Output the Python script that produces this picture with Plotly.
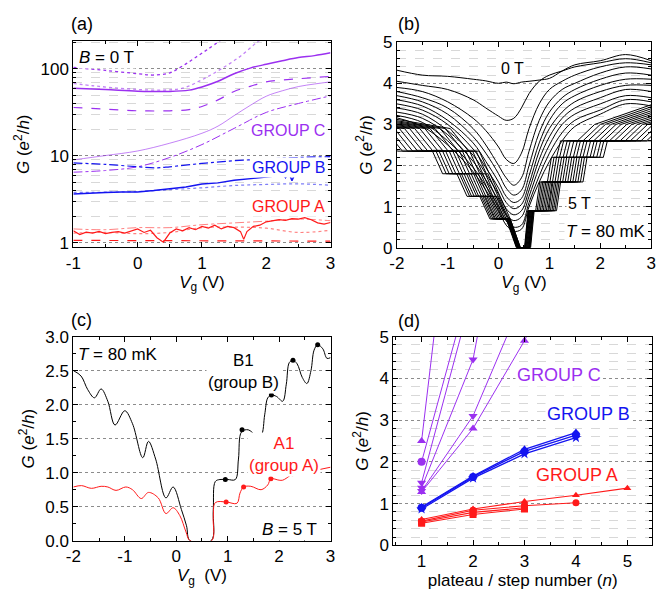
import math
import plotly.graph_objects as go

FONT = "Liberation Sans, Arial, Helvetica, sans-serif"
PURPLE = "#9b30f0"
PURPLE_L = "rgba(155,48,240,0.6)"
BLUE = "#1414f0"
BLUE_L = "rgba(20,20,240,0.55)"
RED = "#ff1a1a"
RED_L = "rgba(255,26,26,0.55)"

# ---------------- panel (a): G vs Vg at B = 0 T (log scale) ----------------
a_c_dot1_vg = [-1.0, -0.5, 0.0, 0.25, 0.5, 0.7, 0.9, 1.1, 1.3]
a_c_dot1_g = [104, 96, 88, 85, 90, 108, 135, 170, 215]
a_c_dot2_vg = [-1.0, -0.7, -0.4, 0.0, 0.4, 0.7, 1.0, 1.3, 1.6, 1.85, 2.0]
a_c_dot2_g = [68, 64, 61, 58, 57, 60, 75, 100, 140, 200, 235]
a_c_solid_vg = [-1.0, -0.5, 0.0, 0.5, 0.8, 1.0, 1.25, 1.5, 1.75, 2.0, 2.25, 2.5, 2.75, 3.0]
a_c_solid_g = [60, 58, 55.5, 55, 57, 62, 72, 88, 102, 113, 124, 135, 142, 153]
a_c_dash_vg = [-1.0, -0.5, 0.0, 0.5, 0.8, 1.0, 1.25, 1.5, 1.75, 2.0, 2.5, 3.0]
a_c_dash_g = [36, 34.5, 33, 33, 34, 37, 44, 55, 63, 71, 77, 82]
a_c_thin_vg = [-1.0, -0.5, 0.0, 0.5, 1.0, 1.25, 1.5, 1.75, 2.0, 2.25, 2.5, 2.75, 3.0]
a_c_thin_g = [9.0, 10.1, 11.4, 14.0, 18.2, 22, 29, 38, 48.5, 56, 62.6, 67, 71]
a_c_dd_vg = [-1.0, -0.5, 0.0, 0.5, 1.0, 1.5, 2.0, 2.5, 3.0]
a_c_dd_g = [6.5, 6.8, 7.5, 9.6, 13.5, 20.7, 31.6, 40, 49]
a_b_dd_vg = [-1.0, -0.5, 0.0, 0.3, 0.5, 1.0, 1.5, 2.0, 2.5, 3.0]
a_b_dd_g = [8.3, 8.0, 7.5, 7.3, 7.5, 8.2, 8.8, 9.2, 9.6, 9.8]
a_b_solid_vg = [-1.0, -0.75, -0.5, -0.25, 0.0, 0.25, 0.5, 0.75, 1.0, 1.25, 1.5, 1.75, 2.0,
                2.2, 2.25, 2.3, 2.35, 2.4, 2.45, 2.5]
a_b_solid_g = [3.65, 3.75, 3.8, 3.85, 3.85, 4.0, 4.2, 4.4, 4.75, 4.9, 5.25, 5.45, 5.7,
               5.95, 6.3, 5.6, 6.4, 5.2, 6.3, 5.9]
a_b_dot_vg = [-1.0, 0.0, 0.5, 1.0, 1.5, 2.0, 2.5, 3.0]
a_b_dot_g = [3.8, 3.9, 4.1, 4.3, 4.57, 4.7, 4.78, 4.6]
a_a_solid_vg = [-1.0, -0.9, -0.8, -0.7, -0.6, -0.5, -0.4, -0.3, -0.2, -0.1, 0.0, 0.1, 0.2,
                0.3, 0.4, 0.5, 0.6, 0.7, 0.8, 0.9, 1.0, 1.1, 1.2, 1.3, 1.4, 1.5, 1.6, 1.65,
                1.7, 1.8, 1.9, 2.0, 2.1, 2.2, 2.3, 2.4, 2.5, 2.6, 2.7, 2.8, 2.9, 3.0]
a_a_solid_g = [1.38, 1.25, 1.33, 1.30, 1.36, 1.28, 1.32, 1.35, 1.30, 1.38, 1.45, 1.32, 1.40,
               1.15, 1.02, 1.30, 1.45, 1.38, 1.50, 1.42, 1.55, 1.48, 1.60, 1.45, 1.55, 1.50,
               1.35, 1.10, 1.35, 1.55, 1.60, 1.75, 1.80, 1.85, 1.82, 1.90, 1.88, 1.95, 1.85,
               1.70, 1.65, 1.72]
a_a_dd_vg = [-1.0, -0.5, 0.0, 0.5, 1.0, 1.5, 2.0, 2.5, 3.0]
a_a_dd_g = [1.45, 1.42, 1.50, 1.50, 1.62, 1.70, 1.78, 1.88, 1.80]
a_a_dot_vg = [-1.0, -0.5, 0.0, 0.5, 1.0, 1.5, 2.0, 2.5, 3.0]
a_a_dot_g = [1.30, 1.32, 1.28, 1.32, 1.50, 1.52, 1.48, 1.32, 1.40]
a_a_dash_vg = [-1.0, 3.0]
a_a_dash_g = [1.07, 1.05]

# ---------------- panel (b): G vs Vg for B = 0 ... 5 T ----------------
b_smooth_vg = [-2.0, -1.5, -1.0, -0.5, -0.25, 0.0, 0.15, 0.3, 0.45, 0.6, 0.8, 1.0, 1.25, 1.5, 2.0, 2.5, 3.0]
b_smooth_g = [
    [4.32, 4.20, 4.17, 4.10, 4.06, 4.00, 4.03, 3.99, 4.03, 4.05, 4.08, 4.12, 4.30, 4.45, 4.55, 4.70, 4.55],
    [4.05, 3.95, 3.85, 3.60, 3.40, 3.20, 3.10, 3.15, 3.40, 3.75, 4.05, 4.20, 4.30, 4.40, 4.50, 4.60, 4.50],
    [3.90, 3.80, 3.55, 3.15, 2.85, 2.45, 2.15, 2.05, 2.30, 2.90, 3.50, 3.85, 4.05, 4.20, 4.40, 4.50, 4.45],
    [3.80, 3.65, 3.40, 2.90, 2.50, 2.00, 1.70, 1.52, 1.70, 2.35, 3.10, 3.55, 3.85, 4.00, 4.25, 4.40, 4.35],
    [3.70, 3.55, 3.25, 2.70, 2.30, 1.80, 1.45, 1.28, 1.40, 2.00, 2.80, 3.30, 3.65, 3.85, 4.10, 4.25, 4.20],
    [3.60, 3.45, 3.10, 2.55, 2.10, 1.60, 1.25, 1.10, 1.20, 1.75, 2.55, 3.10, 3.50, 3.70, 3.95, 4.10, 4.10],
    [3.50, 3.35, 3.00, 2.40, 1.95, 1.45, 1.10, 0.95, 1.05, 1.55, 2.35, 2.90, 3.30, 3.55, 3.80, 3.95, 3.95],
    [3.40, 3.25, 2.85, 2.25, 1.80, 1.30, 0.95, 0.80, 0.90, 1.40, 2.15, 2.70, 3.15, 3.40, 3.65, 3.85, 3.80],
    [3.30, 3.15, 2.75, 2.10, 1.65, 1.15, 0.80, 0.66, 0.75, 1.25, 1.95, 2.50, 3.00, 3.25, 3.50, 3.70, 3.65],
    [3.22, 3.05, 2.60, 1.95, 1.50, 1.00, 0.65, 0.50, 0.55, 1.10, 1.75, 2.30, 2.80, 3.10, 3.35, 3.60, 3.55],
    [3.16, 2.95, 2.50, 1.85, 1.40, 0.90, 0.55, 0.40, 0.45, 1.00, 1.60, 2.10, 2.60, 2.95, 3.25, 3.50, 3.45],
]
# step positions (V) of the plateau transitions, from 5 T (first) down to 2.2 T (last)
b_left_edges = [
    [-2.05, -1.20, -0.72, -0.27, 0.30],
    [-1.95, -1.13, -0.67, -0.24, 0.31],
    [-1.85, -1.07, -0.63, -0.21, 0.31],
    [-1.75, -1.00, -0.58, -0.18, 0.32],
    [-1.65, -0.94, -0.53, -0.16, 0.32],
    [-1.55, -0.87, -0.49, -0.13, 0.33],
    [-1.45, -0.80, -0.44, -0.10, 0.34],
    [-1.35, -0.74, -0.39, -0.07, 0.34],
    [-1.25, -0.67, -0.35, -0.04, 0.35],
    [-1.15, -0.61, -0.30, -0.01, 0.35],
    [-1.05, -0.54, -0.25, 0.02, 0.36],
    [-0.95, -0.47, -0.21, 0.05, 0.37],
    [-0.85, -0.41, -0.16, 0.08, 0.37],
    [-0.75, -0.34, -0.11, 0.10, 0.38],
    [-0.65, -0.28, -0.07, 0.13, 0.38],
]
b_right_edges = [
    [0.67, 1.18, 1.70, 2.10, 3.05],
    [0.66, 1.15, 1.65, 2.03, 2.95],
    [0.65, 1.12, 1.60, 1.97, 2.84],
    [0.64, 1.09, 1.55, 1.90, 2.74],
    [0.64, 1.06, 1.50, 1.84, 2.63],
    [0.63, 1.03, 1.45, 1.77, 2.53],
    [0.62, 1.01, 1.40, 1.70, 2.43],
    [0.61, 0.98, 1.35, 1.64, 2.32],
    [0.60, 0.95, 1.30, 1.57, 2.22],
    [0.59, 0.92, 1.25, 1.51, 2.11],
    [0.58, 0.89, 1.20, 1.44, 2.01],
    [0.57, 0.86, 1.15, 1.37, 1.91],
    [0.56, 0.83, 1.10, 1.31, 1.80],
    [0.56, 0.80, 1.05, 1.24, 1.70],
    [0.55, 0.77, 1.00, 1.18, 1.59],
]
b_left_levels = [2.9, 2.35, 1.8, 1.25, 0.7, 0.0]      # plateau G, from far left to the gap
b_right_levels = [0.0, 0.9, 1.6, 2.2, 2.6, 3.0]       # plateau G, from the gap to far right
b_step_left_g = [2.9, 2.9, 2.9, 2.92, 2.95, 2.98, 3.0, 3.03, 3.06, 3.09, 3.12, 3.15, 3.18, 3.21, 3.25]
b_step_right_g = [2.7, 3.0, 3.05, 3.1, 3.15, 3.2, 3.25, 3.3, 3.35, 3.4, 3.45, 3.5, 3.55, 3.6, 3.65]

# ---------------- panel (c): B1 and A1 at 5 T ----------------
c_b1_vg = [-2.0, -1.85, -1.72, -1.59, -1.46, -1.33, -1.19, -1.0, -0.85, -0.65, -0.54, -0.4, -0.2,
           -0.06, 0.1, 0.2, 0.27, 0.68, 0.72, 0.76, 0.85, 1.0, 1.15, 1.21, 1.27, 1.4, 1.55, 1.65,
           1.72, 1.78, 1.85, 1.95, 2.07, 2.14, 2.2, 2.27, 2.35, 2.45, 2.54, 2.62, 2.68, 2.75, 2.85,
           2.93, 3.0]
c_b1_g = [2.50, 2.42, 2.22, 2.10, 2.23, 2.05, 1.70, 1.91, 1.72, 1.22, 1.46, 1.20, 0.63,
          0.79, 0.46, 0.22, 0.0, 0.0, 0.45, 0.87, 0.90, 0.90, 0.90, 1.20, 1.60, 1.63, 1.55, 1.55,
          1.85, 2.10, 2.14, 2.12, 2.05, 2.30, 2.62, 2.65, 2.60, 2.40, 2.31, 2.50, 2.80, 2.88, 2.82,
          2.68, 2.69]
c_a1_vg = [-2.0, -1.84, -1.65, -1.46, -1.33, -1.17, -0.98, -0.85, -0.68, -0.54, -0.35, -0.2, -0.06,
           0.07, 0.19, 0.27, 0.69, 0.72, 0.76, 0.97, 1.18, 1.24, 1.31, 1.45, 1.65, 1.78, 1.84, 2.0,
           2.07, 2.2, 2.26, 2.5, 2.75, 3.0]
c_a1_g = [0.79, 0.81, 0.77, 0.80, 0.79, 0.74, 0.79, 0.75, 0.62, 0.71, 0.63, 0.40, 0.485,
          0.37, 0.13, 0.0, 0.0, 0.35, 0.56, 0.57, 0.55, 0.70, 0.79, 0.80, 0.75, 0.82, 0.91, 0.89,
          0.89, 0.95, 0.985, 0.99, 1.04, 1.08]
c_b1_dot_vg = [0.955, 1.28, 1.85, 2.27, 2.75]
c_b1_dot_g = [0.90, 1.63, 2.14, 2.65, 2.88]
c_a1_dot_vg = [0.97, 1.31, 1.84, 2.26, 2.75]
c_a1_dot_g = [0.57, 0.79, 0.91, 0.985, 1.05]

# ---------------- panel (d): plateau conductance vs n ----------------
d_c_n = [[1, 2], [1, 2], [1, 2], [1, 2, 3], [1, 2, 3], [1, 2, 3, 4]]
d_c_g = [[2.5, 12.9], [2.0, 6.5], [1.5, 6.1], [1.38, 4.45, 11.0], [1.3, 3.1, 6.0], [1.28, 2.8, 4.9, 7.5]]
d_c_sym = ["triangle-up", "circle", "triangle-down", "triangle-down", "triangle-down", "triangle-up"]
d_b_n = [[1, 2, 3, 4], [1, 2, 3, 4], [1, 2, 3, 4]]
d_b_g = [[0.92, 1.66, 2.30, 2.70], [0.90, 1.64, 2.25, 2.64], [0.87, 1.61, 2.19, 2.58]]
d_b_sym = ["triangle-up", "circle", "star"]
d_a_n = [[1, 2, 3, 4, 5], [1, 2, 3, 4], [1, 2, 3], [1, 2, 3]]
d_a_g = [[0.62, 0.87, 1.05, 1.20, 1.37], [0.58, 0.84, 0.95, 1.02], [0.56, 0.79, 0.90], [0.53, 0.74, 0.87]]
d_a_sym = ["triangle-up", "circle", "square", "square"]

# drawing style for the step transitions in (b): ramp half-widths (V) before / after each edge
LEFT_RAMP = [(0.30, 0.06), (0.10, 0.10), (0.10, 0.10), (0.10, 0.10), (0.15, 0.05)]
RIGHT_RAMP = [(0.04, 0.03), (0.04, 0.04), (0.04, 0.04), (0.04, 0.04), (0.04, 0.30)]

fig = go.Figure()

def line(x, y, color, dash="solid", width=1.0, xa="x", ya="y", shape="linear"):
    fig.add_trace(go.Scatter(x=x, y=y, mode="lines", xaxis=xa, yaxis=ya,
                             line=dict(color=color, width=width, dash=dash, shape=shape),
                             showlegend=False, hoverinfo="skip"))

# panel a
line(a_c_dot1_vg, a_c_dot1_g, PURPLE, "dot", 1.3, shape="spline")
line(a_c_dot2_vg, a_c_dot2_g, PURPLE_L, "dot", 1.3, shape="spline")
line(a_c_solid_vg, a_c_solid_g, PURPLE, "solid", 1.5, shape="spline")
line(a_c_dash_vg, a_c_dash_g, PURPLE, "dash", 1.2, shape="spline")
line(a_c_thin_vg, a_c_thin_g, PURPLE_L, "solid", 1.0, shape="spline")
line(a_c_dd_vg, a_c_dd_g, PURPLE, "dashdot", 1.0, shape="spline")
line(a_b_dd_vg, a_b_dd_g, BLUE, "dashdot", 1.2, shape="spline")
line(a_b_solid_vg, a_b_solid_g, BLUE, "solid", 1.4)
line(a_b_dot_vg, a_b_dot_g, BLUE_L, "dot", 1.2, shape="spline")
line(a_a_dd_vg, a_a_dd_g, RED_L, "dashdot", 1.0, shape="spline")
line(a_a_dot_vg, a_a_dot_g, RED_L, "dot", 1.2, shape="spline")
line(a_a_dash_vg, a_a_dash_g, RED, "dash", 1.2)
line(a_a_solid_vg, a_a_solid_g, RED, "solid", 1.2)

# panel b
for g in b_smooth_g:
    line(b_smooth_vg, g, "black", "solid", 1.0, "x2", "y2", "spline")
for i in range(len(b_left_edges)):
    xs, ys = [-2.6], [b_step_left_g[i]]
    for k, e in enumerate(b_left_edges[i]):
        lo, hi = LEFT_RAMP[k]
        xs += [e - lo, e + hi]
        ys += [b_left_levels[k], b_left_levels[k + 1]]
    for k, f in enumerate(b_right_edges[i]):
        lo, hi = RIGHT_RAMP[k]
        xs += [f - lo, f + hi]
        ys += [b_right_levels[k], b_right_levels[k + 1]]
    xs.append(3.4)
    ys.append(b_step_right_g[i])
    line(xs, ys, "black", "solid", 1.0, "x2", "y2")

# panel c
line(c_b1_vg, c_b1_g, "black", "solid", 1.0, "x3", "y3", "spline")
line(c_a1_vg, c_a1_g, RED, "solid", 1.0, "x3", "y3", "spline")
fig.add_trace(go.Scatter(x=c_b1_dot_vg, y=c_b1_dot_g, mode="markers", xaxis="x3", yaxis="y3",
                         marker=dict(color="black", size=5), showlegend=False))
fig.add_trace(go.Scatter(x=c_a1_dot_vg, y=c_a1_dot_g, mode="markers", xaxis="x3", yaxis="y3",
                         marker=dict(color=RED, size=5), showlegend=False))

# panel d
for ns, gs, sym in zip(d_c_n, d_c_g, d_c_sym):
    fig.add_trace(go.Scatter(x=ns, y=gs, mode="lines+markers", xaxis="x4", yaxis="y4",
                             line=dict(color=PURPLE, width=1), marker=dict(symbol=sym, size=8, color=PURPLE),
                             showlegend=False))
for ns, gs, sym in zip(d_b_n, d_b_g, d_b_sym):
    fig.add_trace(go.Scatter(x=ns, y=gs, mode="lines+markers", xaxis="x4", yaxis="y4",
                             line=dict(color=BLUE, width=1.3), marker=dict(symbol=sym, size=8, color=BLUE),
                             showlegend=False))
for ns, gs, sym in zip(d_a_n, d_a_g, d_a_sym):
    fig.add_trace(go.Scatter(x=ns, y=gs, mode="lines+markers", xaxis="x4", yaxis="y4",
                             line=dict(color=RED, width=1.1), marker=dict(symbol=sym, size=7, color=RED),
                             showlegend=False))

TICKF = dict(family=FONT, size=17, color="black")
TITLEF = dict(family=FONT, size=17, color="black")

def axis(**kw):
    d = dict(showline=True, linecolor="black", linewidth=1, mirror="ticks", ticks="inside",
             ticklen=5, tickcolor="black", tickfont=TICKF, zeroline=False, showgrid=False)
    d.update(kw)
    return d

MAJ_GRID = dict(showgrid=True, gridcolor="#8c8c8c", griddash="dot", gridwidth=1)
MIN_GRID = dict(showgrid=True, gridcolor="#d8d8d8", griddash="dash", gridwidth=1)

vg_title = dict(text="<i>V</i><sub>g</sub> (V)", font=TITLEF, standoff=2)
g_title = dict(text="<i>G</i> (<i>e</i><sup>2</sup>/<i>h</i>)", font=TITLEF, standoff=6)

xa_ticks_a = [-1, 0, 1, 2, 3]
xa_ticks_b = [-2, -1, 0, 1, 2, 3]

fig.update_layout(
    width=660, height=597, margin=dict(l=0, r=0, t=0, b=0),
    paper_bgcolor="white", plot_bgcolor="white", font=dict(family=FONT, color="black"),
    xaxis=axis(domain=[0.101, 0.4985], anchor="y", range=[-1, 3],
               tickmode="array", tickvals=xa_ticks_a, ticktext=[str(v) for v in xa_ticks_a],
               minor=dict(dtick=0.5, tick0=0, ticks="inside", ticklen=3, tickcolor="black"),
               title=vg_title),
    yaxis=axis(domain=[0.588, 0.944], anchor="x", type="log", range=[-0.048, 2.316],
               tickmode="array", tickvals=[1, 10, 100], ticktext=["1", "10", "100"], **MAJ_GRID,
               minor=dict(tickmode="array", tickvals=[2, 3, 4, 5, 6, 7, 8, 9, 20, 30, 40, 50, 60, 70, 80, 90, 200],
                          ticks="inside", ticklen=3, tickcolor="black", **MIN_GRID),
               title=g_title),
    xaxis2=axis(domain=[0.601, 0.994], anchor="y2", range=[-2, 3],
                tickmode="array", tickvals=xa_ticks_b, ticktext=[str(v) for v in xa_ticks_b],
                minor=dict(dtick=0.5, tick0=0, ticks="inside", ticklen=3, tickcolor="black"),
                title=vg_title),
    yaxis2=axis(domain=[0.587, 0.9425], anchor="x2", range=[0, 5], dtick=1, **MAJ_GRID,
                minor=dict(dtick=0.2, tick0=0, ticks="inside", ticklen=3, tickcolor="black", **MIN_GRID),
                title=g_title),
    xaxis3=axis(domain=[0.101, 0.4985], anchor="y3", range=[-2, 3],
                tickmode="array", tickvals=xa_ticks_b, ticktext=[str(v) for v in xa_ticks_b],
                minor=dict(dtick=0.5, tick0=0, ticks="inside", ticklen=3, tickcolor="black"),
                title=dict(text="<i>V</i><sub>g</sub>  (V)", font=TITLEF, standoff=2)),
    yaxis3=axis(domain=[0.080, 0.4333], anchor="x3", range=[0, 3], dtick=0.5, tickformat=".1f", **MAJ_GRID,
                minor=dict(dtick=0.25, tick0=0, ticks="inside", ticklen=3, tickcolor="black"),
                title=g_title),
    xaxis4=axis(domain=[0.5955, 0.9955], anchor="y4", range=[0.45, 5.48], dtick=1, tick0=0,
                minor=dict(dtick=0.5, tick0=0, ticks="inside", ticklen=3, tickcolor="black"),
                title=dict(text="plateau / step number (<i>n</i>)", font=TITLEF, standoff=2)),
    yaxis4=axis(domain=[0.072, 0.4333], anchor="x4", range=[0, 5], dtick=1, **MAJ_GRID,
                minor=dict(dtick=0.2, tick0=0, ticks="inside", ticklen=3, tickcolor="black", **MIN_GRID),
                title=g_title),
)

def ann(text, x, y, xref, yref, color="black", size=17, xanchor="center", bg=None):
    d = dict(text=text, x=x, y=y, xref=xref, yref=yref, showarrow=False, xanchor=xanchor,
             yanchor="middle", font=dict(family=FONT, size=size, color=color))
    if bg:
        d["bgcolor"] = bg
    fig.add_annotation(**d)

# panel letters
ann("(a)", 62 / 660, 1 - 16 / 597, "paper", "paper", size=18, xanchor="left")
ann("(b)", 396 / 660, 1 - 16 / 597, "paper", "paper", size=18, xanchor="left")
ann("(c)", 62 / 660, 1 - 321 / 597, "paper", "paper", size=18, xanchor="left")
ann("(d)", 396 / 660, 1 - 322 / 597, "paper", "paper", size=18, xanchor="left")

# panel a labels (log axis: y given as log10)
ann("<i>B</i> = 0 T", -0.48, math.log10(135), "x", "y", bg="white")
ann("GROUP C", 2.34, math.log10(19.8), "x", "y", color=PURPLE, size=16, bg="white")
ann("GROUP B", 2.36, math.log10(7.3), "x", "y", color=BLUE, size=16, bg="white")
ann("GROUP A", 2.34, math.log10(2.62), "x", "y", color=RED, size=16, bg="white")

# panel b labels
ann("0 T", 0.28, 4.37, "x2", "y2", size=16, bg="white")
ann("5 T", 1.6, 1.08, "x2", "y2", size=16, bg="white")
ann("<i>T</i> = 80 mK", 2.12, 0.39, "x2", "y2", size=17, bg="white")

# panel c labels
ann("<i>T</i> = 80 mK", -1.14, 2.74, "x3", "y3", bg="white")
ann("B1<br>(group B)", 1.3, 2.49, "x3", "y3", bg="white")
ann("A1<br>(group A)", 2.1, 1.27, "x3", "y3", color=RED, bg="white")
ann("<i>B</i> = 5 T", 2.2, 0.16, "x3", "y3", bg="white")

# panel d labels
ann("GROUP C", 3.68, 4.07, "x4", "y4", color=PURPLE, size=18, bg="white")
ann("GROUP B", 4.24, 3.15, "x4", "y4", color=BLUE, size=18, bg="white")
ann("GROUP A", 4.02, 1.68, "x4", "y4", color=RED, size=18, bg="white")

fig.write_html("out.html")
